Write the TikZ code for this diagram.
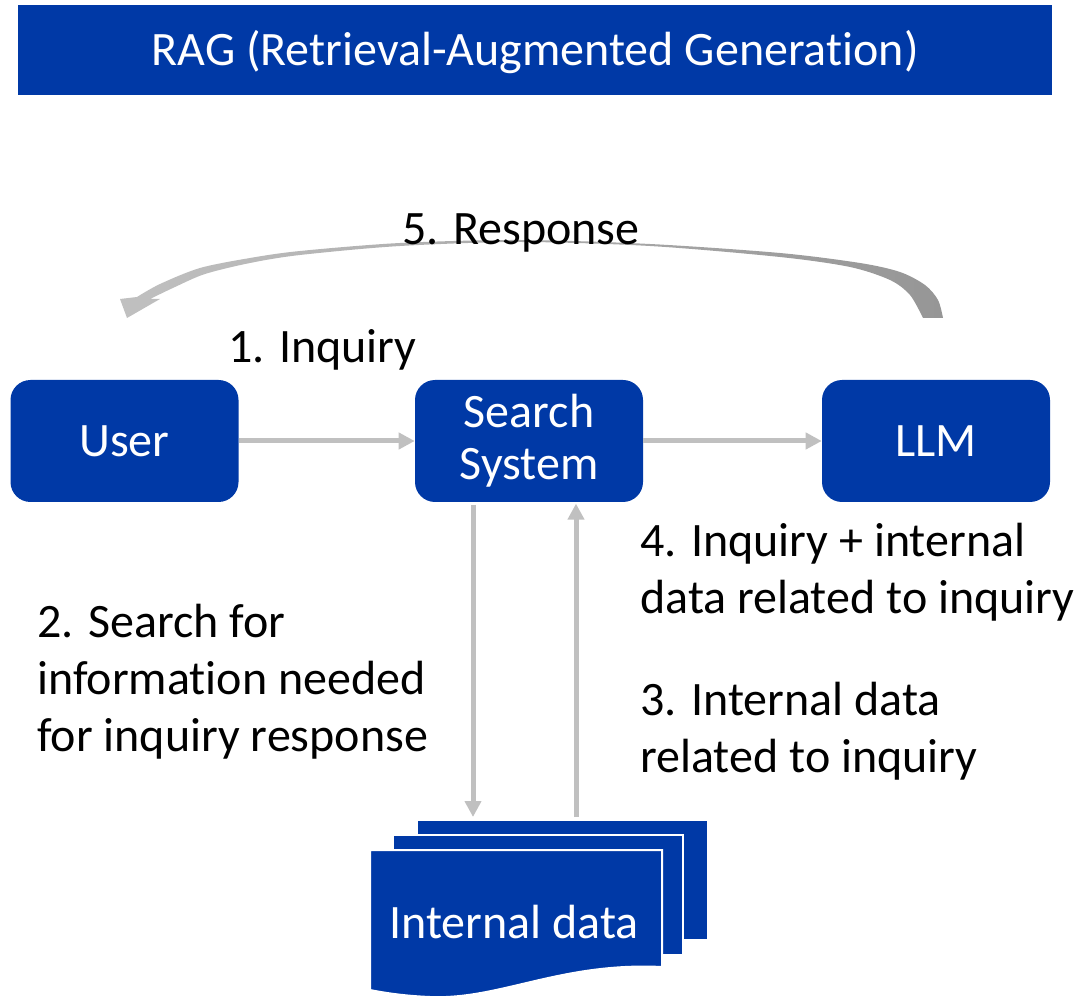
\documentclass[tikz,border=0pt]{standalone}
\usepackage{fontspec}
\setmainfont{Carlito}[Ligatures=NoCommon]
\usetikzlibrary{arrows.meta}
\definecolor{rblue}{RGB}{0,57,166}
\definecolor{rgray}{RGB}{192,192,192}
\definecolor{rgrayd}{RGB}{150,150,150}
\begin{document}
\begin{tikzpicture}[x=0.75pt,y=-0.75pt,
  box/.style={rectangle, rounded corners=15pt, fill=rblue, text=white,
    minimum width=171pt, minimum height=91.5pt, inner sep=0pt,
    font=\fontsize{36}{39}\selectfont, align=center},
  capbox/.style={box, text height=23.2pt, text depth=0pt},
  page/.style={rectangle, fill=rblue, draw=white, line width=1.5pt, inner sep=0pt},
  garrow/.style={draw=rgray, line width=3.75pt, -{Triangle[length=12pt,width=12pt]}},
  lbl/.style={font=\fontsize{36}{42.75}\selectfont, align=left, inner sep=0pt, anchor=base west}
]
\useasboundingbox (0,0) rectangle (1079,998);

% title
\node[capbox, rounded corners=0pt, minimum width=775.5pt, minimum height=67.5pt] (title) at (535,50) {RAG (Retrieval-Augmented Generation)};

% main boxes
\node[capbox] (user) at (124.5,441) {User};
\node[box] (search) at (529,441) {Search\\System};
\node[capbox] (llm) at (936,441) {LLM};

% document stack
\node[page, minimum width=218.25pt, minimum height=90pt] (back) at (562.5,880) {};
\node[page, minimum width=217.5pt, minimum height=90pt] (mid) at (538,895) {};
\filldraw[fill=rblue, draw=white, line width=1.5pt]
  (370,850) -- (662,850) -- (662,967)
  .. controls (560,962) and (500,1000) .. (430,997)
  .. controls (405,996) and (385,993) .. (370,990) -- cycle;
\node[inner sep=0pt, text=white, font=\fontsize{36}{42.75}\selectfont, text height=23.2pt, text depth=0pt] (docs) at (514,923) {Internal data};

% straight connectors
\coordinate (dx) at (473,0);
\coordinate (ux) at (576,0);
\draw[garrow] (user.east) -- (search.west);
\draw[garrow] (search.east) -- (llm.west);
\draw[garrow, shorten <=2pt, shorten >=1.5pt] (search.south -| dx) -- (back.north -| dx);
\draw[garrow, shorten <=1.5pt, shorten >=1pt] (back.north -| ux) -- (search.south -| ux);

% curved response arrow
\shade[left color=rgray, right color=rgrayd]
  plot[smooth] coordinates {(943,318) (938,300) (925,285) (900,272) (860,263) (780,253) (650,244) (520,240) (400,243) (300,251) (250,258) (200,268) (160,284) (137,297)}
  -- (120,299) -- (127,318) -- (160,299) -- (150,299)
  -- plot[smooth] coordinates {(150,299) (175,287) (205,274) (250,263) (300,255) (400,246) (520,242) (650,246) (780,257) (850,267) (890,280) (910,295) (923,318)}
  -- cycle;

% labels (base anchor = baseline of the last line)
\node[lbl] (l5) at (402,245) {5. Response};
\node[lbl] (l1) at (228,363) {1. Inquiry};
\node[lbl] (l4) at (640,614) {4. Inquiry + internal\\data related to inquiry};
\node[lbl] (l2) at (37,751) {2. Search for\\information needed\\for inquiry response};
\node[lbl] (l3) at (640,772) {3. Internal data\\related to inquiry};
\end{tikzpicture}
\end{document}
